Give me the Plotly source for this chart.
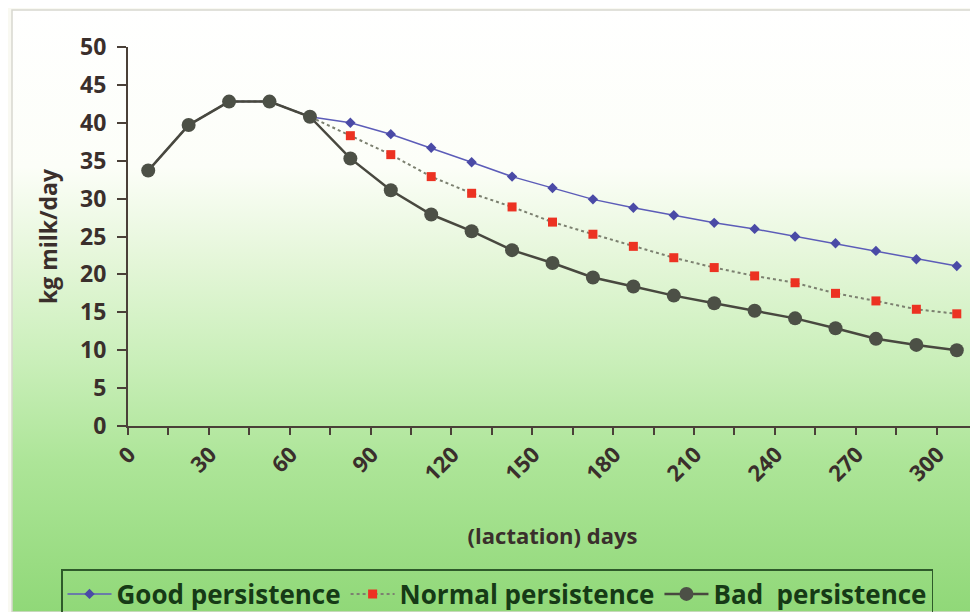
import base64
import plotly.graph_objects as go

# ---- data ----
days = [0, 15, 30, 45, 60, 75, 90, 105, 120, 135, 150, 165, 180, 195, 210, 225, 240, 255, 270, 285, 300]
good = [33.7, 39.7, 42.8, 42.8, 40.8, 40.0, 38.5, 36.7, 34.8, 32.9, 31.4, 29.9, 28.8, 27.8, 26.8, 26.0, 25.0, 24.1, 23.1, 22.0, 21.1]
normal = [33.7, 39.7, 42.8, 42.8, 40.8, 38.3, 35.8, 32.9, 30.7, 28.9, 26.9, 25.3, 23.7, 22.2, 20.9, 19.8, 18.9, 17.5, 16.5, 15.4, 14.8]
bad = [33.7, 39.7, 42.8, 42.8, 40.8, 35.3, 31.1, 27.9, 25.7, 23.2, 21.5, 19.6, 18.4, 17.2, 16.2, 15.2, 14.2, 12.9, 11.5, 10.7, 10.0]
tick_days = [0, 30, 60, 90, 120, 150, 180, 210, 240, 270, 300]
tick_labels = [str(d) for d in tick_days]

# page body has an 8px margin, so the figure is 8px smaller than the window
OFF = 8
W, H = 978 - OFF, 612 - OFF
ML, MR, MT, MB = 128 - OFF, 1, 47 - OFF, 186
PW, PH = W - ML - MR, H - MT - MB

FONT = "Open Sans"
TXT = "#3a2f2c"
AX = "#4a4038"

svg = f'''<svg xmlns="http://www.w3.org/2000/svg" width="{W}" height="{H}" viewBox="0 0 {W} {H}" preserveAspectRatio="none">
<defs><linearGradient id="g" x1="0" y1="0" x2="0" y2="1">
<stop offset="0" stop-color="#ffffff"/>
<stop offset="0.26" stop-color="#fcfef8"/>
<stop offset="0.42" stop-color="#e4f6d8"/>
<stop offset="0.58" stop-color="#caefba"/>
<stop offset="0.75" stop-color="#ade598"/>
<stop offset="1" stop-color="#90d878"/>
</linearGradient></defs>
<rect x="0" y="0" width="{W}" height="{H}" fill="#f9f9f2"/>
<rect x="{12-OFF}" y="{10-OFF}" width="{W-12+OFF}" height="{H-10+OFF}" fill="url(#g)" stroke="#d8d8d0" stroke-width="1.5"/>
</svg>'''
src = "data:image/svg+xml;base64," + base64.b64encode(svg.encode()).decode()

fig = go.Figure()
fig.add_trace(go.Scatter(
    x=days, y=good, name="Good persistence", mode="lines+markers",
    line=dict(color="#5c5cb8", width=1.5),
    marker=dict(symbol="diamond", size=8, color="#4a4aa6"),
))
fig.add_trace(go.Scatter(
    x=days, y=normal, name="Normal persistence", mode="lines+markers",
    line=dict(color="#7c8070", width=2, dash="dot"),
    marker=dict(symbol="square", size=9, color="#ec3222"),
))
fig.add_trace(go.Scatter(
    x=days, y=bad, name="Bad  persistence", mode="lines+markers",
    line=dict(color="#48483f", width=2.5),
    marker=dict(symbol="circle", size=14, color="#4c5046"),
))

fig.add_layout_image(dict(
    source=src, xref="paper", yref="paper",
    x=-ML / PW, y=1 + MT / PH, sizex=W / PW, sizey=H / PH,
    xanchor="left", yanchor="top", sizing="stretch", layer="below",
))

fig.update_layout(
    width=W, height=H,
    margin=dict(l=ML, r=MR, t=MT, b=MB, autoexpand=False),
    paper_bgcolor="white", plot_bgcolor="rgba(0,0,0,0)",
    font=dict(family=FONT, color=TXT),
    showlegend=True,
    legend=dict(
        orientation="h", x=(61 - 128) / PW, y=(426 - 569) / PH, xanchor="left", yanchor="top",
        bgcolor="rgba(0,0,0,0)", bordercolor="#2e5a2a", borderwidth=1.5,
        font=dict(family=FONT, size=26, color="#163a16", weight="bold"),
        itemwidth=44, tracegroupgap=0,
    ),
    xaxis=dict(
        range=[-7.5, 307.5], showgrid=False, zeroline=False,
        showline=True, linecolor=AX, linewidth=2,
        tickmode="array", tickvals=tick_days, ticktext=tick_labels,
        ticks="", tickangle=-45, ticklabelstandoff=5, ticklabelshift=-19,
        tickfont=dict(family=FONT, size=22, color=TXT, weight="bold"),
        minor=dict(tick0=-7.5, dtick=15, ticks="outside", ticklen=7, tickwidth=2, tickcolor=AX, showgrid=False),
        title=dict(text="(lactation) days", standoff=42,
                   font=dict(family=FONT, size=22, color=TXT, weight="bold")),
        automargin=False,
    ),
    yaxis=dict(
        range=[0, 50], dtick=5, showgrid=False, zeroline=False,
        showline=True, linecolor=AX, linewidth=2,
        ticks="outside", ticklen=9, tickwidth=2, tickcolor=AX, ticklabelstandoff=6,
        tickfont=dict(family=FONT, size=23, color=TXT, weight="bold"),
        title=dict(text="kg milk/day", standoff=16,
                   font=dict(family=FONT, size=23, color=TXT, weight="bold")),
        automargin=False,
    ),
)

fig.write_html("out.html")
